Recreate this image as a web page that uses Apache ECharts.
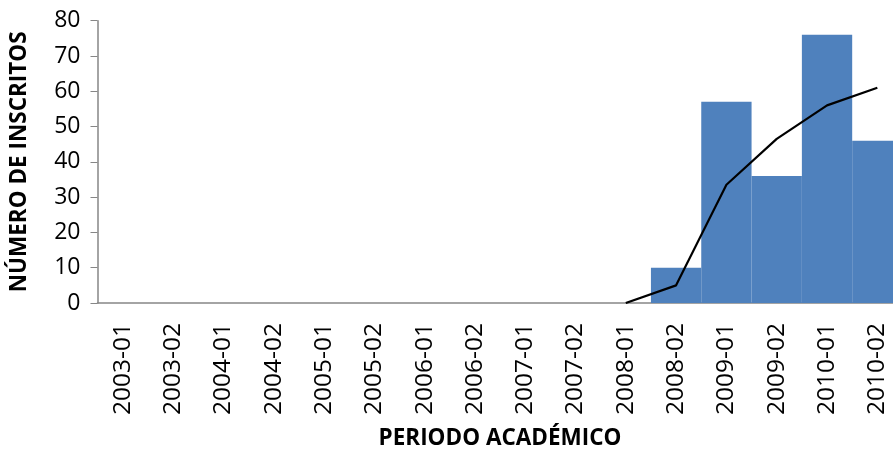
<!DOCTYPE html>
<html>
<head>
<meta charset="utf-8">
<script src="https://cdn.jsdelivr.net/npm/echarts@6/dist/echarts.min.js"></script>
<style>
  html, body { margin: 0; padding: 0; background: #fff; }
  #chart { width: 893px; height: 449px; }
</style>
</head>
<body>
<div id="chart"></div>
<script>
const periods = ['2003-01', '2003-02', '2004-01', '2004-02', '2005-01', '2005-02', '2006-01', '2006-02',
  '2007-01', '2007-02', '2008-01', '2008-02', '2009-01', '2009-02', '2010-01', '2010-02']
const inscritos = [0, 0, 0, 0, 0, 0, 0, 0, 0, 0, 0, 10, 57, 36, 76, 46]
// media movil de 2 periodos (linea de tendencia)
const tendencia = [null, null, null, null, null, null, null, null, null, null, 0, 5, 33.5, 46.5, 56, 61]
const yTicks = { min: 0, max: 80, interval: 10 }

const font = 'Open Sans'
const chart = echarts.init(document.getElementById('chart'))
chart.setOption({
  animation: false,
  grid: { left: 97.5, top: 20.7, height: 282.3, width: 805, outerBoundsMode: 'none' },
  xAxis: {
    type: 'category',
    data: periods,
    name: 'PERIODO ACADÉMICO',
    nameLocation: 'middle',
    nameGap: 124,
    nameTextStyle: { fontFamily: font, fontWeight: 'bold', fontSize: 22.5, color: '#000' },
    axisLine: { lineStyle: { color: '#868686', width: 1.5 } },
    axisTick: { show: false },
    axisLabel: { rotate: 90, margin: 20, fontFamily: font, fontSize: 24.5, color: '#000' }
  },
  yAxis: {
    type: 'value',
    min: yTicks.min,
    max: yTicks.max,
    interval: yTicks.interval,
    name: 'NÚMERO DE INSCRITOS',
    nameLocation: 'middle',
    nameGap: 66,
    nameTextStyle: { fontFamily: font, fontWeight: 'bold', fontSize: 22.5, color: '#000' },
    axisLine: { show: true, lineStyle: { color: '#868686', width: 1.5 } },
    axisTick: { show: true, length: 7, lineStyle: { color: '#868686' } },
    splitLine: { show: false },
    axisLabel: { margin: 17, fontFamily: font, fontSize: 23, color: '#000' }
  },
  series: [
    {
      type: 'bar',
      data: inscritos,
      barCategoryGap: '0%',
      itemStyle: { color: '#4F81BD' }
    },
    {
      type: 'line',
      data: tendencia,
      symbol: 'none',
      z: 5,
      lineStyle: { color: '#000', width: 2.2 }
    }
  ]
})
</script>
</body>
</html>
